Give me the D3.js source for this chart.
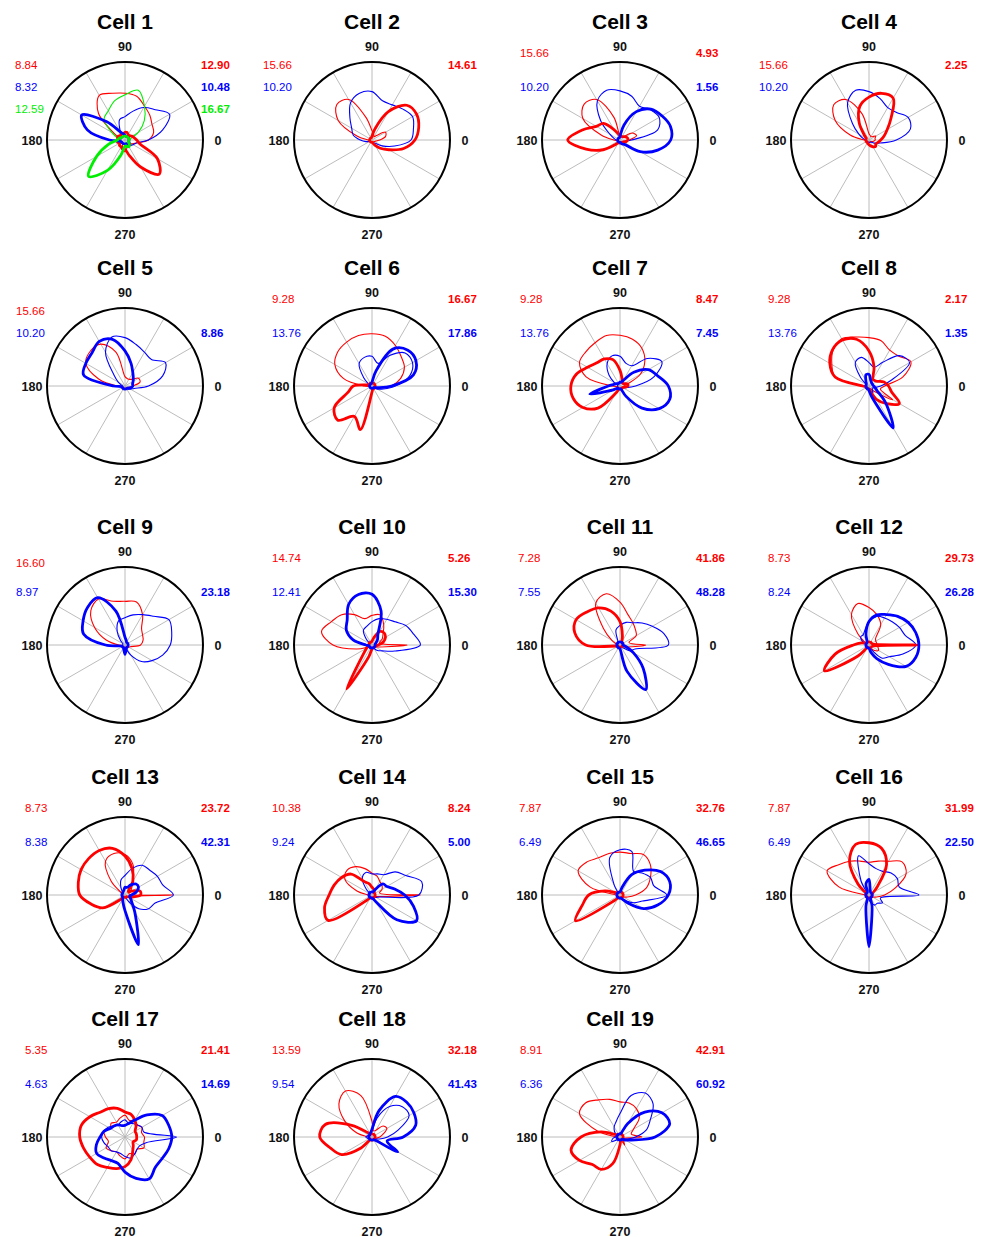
<!DOCTYPE html>
<html>
<head>
<meta charset="utf-8">
<script src="https://cdn.jsdelivr.net/npm/d3@7"></script>
<style>
  body { margin: 0; background: #fff; }
  svg { display: block; font-family: Arial, "Liberation Sans", sans-serif; }
</style>
</head>
<body>
<div id="chart"></div>
<script>
// ---- data ----
const cellNames = d3.range(1, 20).map(i => "Cell " + i);
const angles = d3.range(0, 360, 15);          // degrees, 0 = right, counter-clockwise
const spokeAngles = d3.range(0, 360, 30);
const axisTicks = [0, 90, 180, 270];

// peak values printed beside each plot (null = series absent)
const thinRedMax   = [8.84, 15.66, 15.66, 15.66, 15.66, 9.28, 9.28, 9.28, 16.60, 14.74, 7.28, 8.73, 8.73, 10.38, 7.87, 7.87, 5.35, 13.59, 8.91];
const thinBlueMax  = [8.32, 10.20, 10.20, 10.20, 10.20, 13.76, 13.76, 13.76, 8.97, 12.41, 7.55, 8.24, 8.38, 9.24, 6.49, 6.49, 4.63, 9.54, 6.36];
const thinGreenMax = [12.59, null, null, null, null, null, null, null, null, null, null, null, null, null, null, null, null, null, null];
const thickRedMax  = [12.90, 14.61, 4.93, 2.25, null, 16.67, 8.47, 2.17, null, 5.26, 41.86, 29.73, 23.72, 8.24, 32.76, 31.99, 21.41, 32.18, 42.91];
const thickBlueMax = [10.48, null, 1.56, null, 8.86, 17.86, 7.45, 1.35, 23.18, 15.30, 48.28, 26.28, 42.31, 5.00, 46.65, 22.50, 14.69, 41.43, 60.92];
const thickGreenMax = [16.67, null, null, null, null, null, null, null, null, null, null, null, null, null, null, null, null, null, null];

// tuning curves: radius as fraction of the outer ring, one value per entry of `angles`
const thinRed = [
  [0.30,0.38,0.40,0.45,0.50,0.58,0.60,0.62,0.66,0.48,0.15,0.08,0.06,0.05,0.05,0.05,0.06,0.12,0.15,0.10,0.06,0.08,0.10,0.15],
  [0.10,0.18,0.20,0.08,0.05,0.08,0.12,0.30,0.60,0.64,0.50,0.20,0.05,0.03,0.03,0.03,0.03,0.03,0.03,0.03,0.03,0.03,0.04,0.05],
  [0.12,0.22,0.18,0.06,0.05,0.05,0.05,0.30,0.60,0.65,0.55,0.25,0.08,0.04,0.03,0.03,0.03,0.03,0.03,0.03,0.03,0.03,0.04,0.06],
  [0.08,0.08,0.10,0.06,0.05,0.06,0.08,0.35,0.60,0.64,0.50,0.25,0.06,0.03,0.03,0.03,0.03,0.03,0.03,0.03,0.03,0.03,0.04,0.06],
  [0.10,0.20,0.20,0.12,0.10,0.10,0.12,0.45,0.62,0.63,0.58,0.35,0.10,0.03,0.03,0.03,0.03,0.03,0.03,0.03,0.03,0.03,0.04,0.06],
  [0.25,0.38,0.48,0.53,0.60,0.66,0.67,0.67,0.65,0.62,0.55,0.38,0.10,0.03,0.03,0.03,0.03,0.03,0.03,0.03,0.03,0.04,0.06,0.10],
  [0.05,0.10,0.30,0.45,0.56,0.62,0.65,0.67,0.64,0.62,0.60,0.45,0.10,0.03,0.03,0.03,0.03,0.03,0.03,0.03,0.03,0.03,0.03,0.04],
  [0.20,0.45,0.62,0.54,0.53,0.60,0.62,0.65,0.70,0.65,0.55,0.45,0.05,0.03,0.03,0.03,0.03,0.03,0.03,0.03,0.04,0.10,0.35,0.15],
  [0.20,0.24,0.26,0.30,0.45,0.57,0.56,0.58,0.68,0.62,0.45,0.25,0.08,0.03,0.03,0.03,0.03,0.03,0.03,0.03,0.03,0.03,0.05,0.08],
  [0.45,0.10,0.15,0.20,0.30,0.40,0.38,0.35,0.45,0.55,0.60,0.67,0.50,0.20,0.05,0.03,0.03,0.03,0.03,0.03,0.03,0.03,0.05,0.10],
  [0.33,0.12,0.24,0.28,0.33,0.40,0.55,0.68,0.62,0.30,0.12,0.05,0.03,0.03,0.03,0.03,0.03,0.03,0.03,0.03,0.03,0.03,0.05,0.10],
  [0.10,0.10,0.10,0.12,0.30,0.40,0.48,0.55,0.45,0.20,0.05,0.03,0.03,0.03,0.03,0.03,0.03,0.03,0.03,0.03,0.05,0.10,0.14,0.12],
  [0.62,0.05,0.08,0.12,0.20,0.40,0.52,0.55,0.50,0.25,0.05,0.03,0.03,0.03,0.03,0.03,0.03,0.03,0.03,0.03,0.03,0.03,0.04,0.06],
  [0.62,0.10,0.15,0.18,0.20,0.25,0.28,0.35,0.42,0.45,0.40,0.20,0.05,0.03,0.03,0.03,0.03,0.03,0.03,0.03,0.03,0.03,0.04,0.08],
  [0.20,0.35,0.45,0.55,0.60,0.55,0.55,0.55,0.55,0.60,0.62,0.40,0.05,0.03,0.03,0.03,0.03,0.03,0.03,0.03,0.03,0.03,0.05,0.10],
  [0.20,0.35,0.55,0.60,0.50,0.45,0.42,0.45,0.50,0.55,0.62,0.40,0.05,0.03,0.03,0.03,0.03,0.03,0.03,0.03,0.03,0.03,0.05,0.10],
  [0.25,0.22,0.25,0.22,0.25,0.22,0.28,0.25,0.22,0.25,0.22,0.28,0.25,0.22,0.28,0.25,0.22,0.25,0.28,0.22,0.25,0.22,0.28,0.25],
  [0.10,0.15,0.22,0.20,0.10,0.08,0.20,0.55,0.68,0.60,0.40,0.20,0.05,0.03,0.03,0.03,0.03,0.03,0.03,0.03,0.03,0.03,0.04,0.06],
  [0.28,0.15,0.20,0.35,0.42,0.45,0.45,0.50,0.55,0.62,0.60,0.30,0.05,0.03,0.03,0.03,0.03,0.03,0.03,0.03,0.12,0.06,0.04,0.06]
];

const thinBlue = [
  [0.30,0.50,0.66,0.55,0.48,0.38,0.30,0.27,0.12,0.06,0.05,0.05,0.06,0.06,0.06,0.06,0.06,0.06,0.06,0.06,0.08,0.10,0.12,0.15],
  [0.50,0.55,0.60,0.56,0.52,0.52,0.62,0.62,0.55,0.40,0.30,0.25,0.15,0.08,0.04,0.03,0.03,0.03,0.03,0.03,0.04,0.06,0.15,0.30],
  [0.15,0.50,0.58,0.55,0.50,0.58,0.63,0.66,0.58,0.35,0.15,0.08,0.05,0.03,0.03,0.03,0.03,0.03,0.03,0.03,0.03,0.03,0.04,0.06],
  [0.35,0.55,0.58,0.50,0.48,0.55,0.62,0.66,0.55,0.30,0.15,0.08,0.04,0.03,0.03,0.03,0.03,0.03,0.03,0.03,0.03,0.04,0.08,0.15],
  [0.30,0.50,0.60,0.48,0.50,0.55,0.62,0.65,0.50,0.20,0.10,0.05,0.03,0.03,0.03,0.03,0.03,0.03,0.03,0.03,0.04,0.06,0.08,0.12],
  [0.30,0.50,0.60,0.60,0.45,0.30,0.38,0.38,0.33,0.15,0.05,0.03,0.03,0.03,0.03,0.03,0.03,0.03,0.03,0.03,0.03,0.04,0.08,0.15],
  [0.20,0.45,0.62,0.50,0.30,0.30,0.38,0.40,0.33,0.20,0.08,0.03,0.03,0.03,0.03,0.03,0.03,0.03,0.03,0.03,0.03,0.03,0.04,0.08],
  [0.15,0.30,0.60,0.55,0.35,0.25,0.30,0.38,0.35,0.15,0.04,0.03,0.03,0.03,0.03,0.03,0.03,0.03,0.03,0.05,0.10,0.06,0.05,0.08],
  [0.58,0.62,0.65,0.52,0.45,0.40,0.35,0.32,0.20,0.08,0.03,0.03,0.03,0.03,0.03,0.03,0.03,0.03,0.03,0.05,0.15,0.30,0.40,0.50],
  [0.62,0.55,0.50,0.42,0.38,0.35,0.30,0.25,0.22,0.10,0.03,0.03,0.03,0.03,0.03,0.03,0.03,0.03,0.03,0.03,0.05,0.10,0.15,0.30],
  [0.62,0.58,0.48,0.40,0.33,0.30,0.25,0.20,0.05,0.03,0.03,0.03,0.03,0.03,0.03,0.03,0.03,0.03,0.03,0.03,0.03,0.05,0.15,0.20],
  [0.60,0.48,0.45,0.42,0.40,0.38,0.30,0.20,0.15,0.15,0.10,0.04,0.03,0.03,0.03,0.03,0.03,0.03,0.03,0.04,0.08,0.24,0.30,0.45],
  [0.62,0.50,0.48,0.45,0.44,0.35,0.25,0.20,0.10,0.04,0.03,0.03,0.03,0.03,0.03,0.03,0.03,0.03,0.03,0.04,0.10,0.25,0.35,0.40],
  [0.60,0.66,0.50,0.42,0.30,0.28,0.27,0.30,0.25,0.10,0.03,0.03,0.03,0.03,0.03,0.03,0.03,0.03,0.03,0.03,0.03,0.04,0.06,0.10],
  [0.60,0.45,0.45,0.40,0.35,0.58,0.58,0.50,0.15,0.04,0.04,0.04,0.04,0.04,0.04,0.04,0.04,0.04,0.04,0.04,0.06,0.10,0.20,0.30],
  [0.64,0.40,0.42,0.40,0.35,0.35,0.40,0.52,0.20,0.04,0.04,0.04,0.04,0.04,0.04,0.04,0.04,0.04,0.06,0.10,0.15,0.15,0.20,0.15],
  [0.66,0.25,0.25,0.22,0.20,0.18,0.22,0.20,0.18,0.20,0.25,0.28,0.30,0.28,0.25,0.25,0.22,0.22,0.25,0.28,0.25,0.22,0.22,0.28],
  [0.20,0.35,0.55,0.55,0.45,0.25,0.08,0.06,0.05,0.04,0.04,0.06,0.08,0.06,0.04,0.04,0.04,0.04,0.04,0.04,0.04,0.04,0.05,0.10],
  [0.20,0.35,0.45,0.60,0.65,0.55,0.30,0.20,0.15,0.10,0.05,0.04,0.06,0.10,0.12,0.05,0.03,0.03,0.03,0.03,0.03,0.03,0.05,0.10]
];

const thinGreen = [
  [0.06,0.08,0.20,0.35,0.50,0.66,0.58,0.52,0.43,0.38,0.20,0.10,0.06,0.05,0.05,0.05,0.05,0.05,0.08,0.10,0.08,0.06,0.05,0.05],
  null, null, null, null, null, null, null, null, null, null, null, null, null, null, null, null, null, null
];

const thickRed = [
  [0.15,0.12,0.10,0.08,0.08,0.10,0.10,0.08,0.10,0.08,0.10,0.10,0.08,0.10,0.08,0.10,0.10,0.12,0.12,0.20,0.40,0.62,0.48,0.20],
  [0.55,0.62,0.66,0.63,0.42,0.15,0.05,0.03,0.03,0.03,0.03,0.03,0.03,0.03,0.03,0.03,0.03,0.03,0.03,0.04,0.08,0.15,0.25,0.42],
  [0.10,0.10,0.08,0.06,0.05,0.05,0.06,0.08,0.15,0.30,0.35,0.50,0.67,0.45,0.25,0.08,0.04,0.04,0.04,0.04,0.04,0.04,0.05,0.08],
  [0.15,0.20,0.27,0.40,0.62,0.62,0.55,0.45,0.25,0.08,0.04,0.04,0.04,0.04,0.04,0.04,0.04,0.05,0.06,0.08,0.10,0.12,0.10,0.12],
  null,
  [0.04,0.04,0.04,0.04,0.04,0.04,0.04,0.04,0.04,0.04,0.04,0.06,0.24,0.32,0.56,0.62,0.45,0.58,0.08,0.04,0.04,0.04,0.04,0.04],
  [0.10,0.10,0.06,0.05,0.06,0.10,0.20,0.35,0.40,0.42,0.48,0.58,0.63,0.62,0.55,0.40,0.10,0.04,0.04,0.04,0.04,0.04,0.04,0.06],
  [0.25,0.20,0.12,0.10,0.10,0.25,0.45,0.62,0.68,0.66,0.58,0.45,0.08,0.04,0.04,0.04,0.04,0.04,0.04,0.08,0.20,0.32,0.45,0.30],
  null,
  [0.08,0.15,0.20,0.22,0.20,0.10,0.05,0.04,0.04,0.04,0.04,0.04,0.04,0.05,0.08,0.15,0.65,0.15,0.05,0.04,0.04,0.04,0.04,0.05],
  [0.04,0.04,0.04,0.04,0.05,0.12,0.30,0.45,0.55,0.60,0.65,0.60,0.44,0.05,0.03,0.03,0.03,0.03,0.03,0.03,0.03,0.03,0.03,0.04],
  [0.62,0.05,0.04,0.04,0.04,0.04,0.04,0.04,0.04,0.04,0.05,0.10,0.20,0.45,0.66,0.20,0.04,0.04,0.04,0.04,0.04,0.04,0.04,0.05],
  [0.20,0.20,0.10,0.06,0.20,0.35,0.50,0.62,0.66,0.66,0.65,0.62,0.58,0.45,0.33,0.08,0.03,0.03,0.03,0.03,0.03,0.03,0.05,0.10],
  [0.04,0.04,0.04,0.04,0.06,0.08,0.10,0.15,0.20,0.38,0.45,0.50,0.55,0.63,0.65,0.10,0.04,0.04,0.04,0.04,0.04,0.04,0.04,0.04],
  [0.04,0.04,0.04,0.04,0.04,0.04,0.04,0.04,0.04,0.04,0.06,0.20,0.40,0.50,0.66,0.10,0.04,0.04,0.04,0.04,0.04,0.04,0.04,0.04],
  [0.04,0.04,0.06,0.15,0.45,0.62,0.67,0.67,0.50,0.20,0.05,0.04,0.04,0.04,0.04,0.04,0.04,0.04,0.04,0.04,0.04,0.04,0.04,0.04],
  [0.15,0.15,0.15,0.20,0.25,0.30,0.32,0.38,0.42,0.45,0.52,0.58,0.58,0.55,0.52,0.50,0.45,0.42,0.38,0.30,0.20,0.15,0.12,0.15],
  [0.04,0.04,0.04,0.04,0.04,0.04,0.04,0.04,0.04,0.08,0.30,0.62,0.67,0.55,0.45,0.20,0.04,0.04,0.04,0.04,0.04,0.04,0.04,0.04],
  [0.04,0.04,0.04,0.04,0.04,0.04,0.04,0.04,0.04,0.04,0.06,0.25,0.50,0.65,0.60,0.50,0.48,0.35,0.10,0.04,0.04,0.04,0.04,0.04]
];

const thickBlue = [
  [0.05,0.05,0.05,0.05,0.05,0.05,0.06,0.08,0.12,0.33,0.64,0.50,0.20,0.06,0.05,0.05,0.05,0.05,0.05,0.05,0.06,0.08,0.06,0.05],
  null,
  [0.65,0.67,0.62,0.56,0.42,0.20,0.05,0.03,0.03,0.03,0.03,0.03,0.03,0.03,0.03,0.03,0.03,0.03,0.03,0.04,0.06,0.08,0.30,0.50],
  null,
  [0.10,0.10,0.12,0.15,0.20,0.30,0.45,0.62,0.66,0.60,0.58,0.55,0.15,0.04,0.04,0.04,0.04,0.04,0.04,0.04,0.04,0.04,0.05,0.08],
  [0.25,0.55,0.65,0.65,0.55,0.20,0.05,0.03,0.03,0.03,0.03,0.03,0.03,0.03,0.03,0.03,0.03,0.03,0.03,0.03,0.03,0.03,0.04,0.08],
  [0.62,0.50,0.42,0.25,0.08,0.05,0.05,0.04,0.04,0.04,0.06,0.08,0.15,0.40,0.10,0.04,0.04,0.04,0.04,0.04,0.15,0.40,0.58,0.66],
  [0.06,0.05,0.05,0.05,0.06,0.08,0.15,0.15,0.08,0.05,0.04,0.04,0.04,0.04,0.04,0.04,0.04,0.04,0.06,0.15,0.62,0.30,0.12,0.08],
  [0.04,0.04,0.04,0.04,0.04,0.06,0.10,0.45,0.70,0.68,0.62,0.55,0.25,0.05,0.04,0.04,0.04,0.06,0.12,0.06,0.04,0.04,0.04,0.04],
  [0.04,0.04,0.06,0.10,0.15,0.45,0.65,0.67,0.60,0.45,0.38,0.25,0.08,0.04,0.04,0.04,0.04,0.04,0.04,0.04,0.04,0.04,0.04,0.04],
  [0.04,0.04,0.04,0.04,0.04,0.04,0.04,0.04,0.04,0.04,0.04,0.04,0.04,0.04,0.04,0.04,0.04,0.04,0.05,0.35,0.66,0.42,0.20,0.08],
  [0.64,0.62,0.58,0.52,0.45,0.40,0.30,0.15,0.05,0.04,0.04,0.04,0.04,0.04,0.04,0.04,0.04,0.04,0.04,0.10,0.20,0.35,0.55,0.62],
  [0.08,0.15,0.20,0.20,0.15,0.10,0.10,0.06,0.05,0.04,0.04,0.04,0.04,0.04,0.04,0.04,0.06,0.10,0.20,0.66,0.25,0.12,0.08,0.06],
  [0.42,0.30,0.22,0.20,0.08,0.04,0.04,0.04,0.04,0.04,0.04,0.04,0.04,0.04,0.04,0.04,0.04,0.04,0.04,0.05,0.10,0.45,0.66,0.55],
  [0.62,0.66,0.60,0.45,0.30,0.10,0.04,0.04,0.04,0.04,0.04,0.04,0.04,0.04,0.04,0.04,0.04,0.04,0.04,0.04,0.06,0.15,0.35,0.50],
  [0.04,0.04,0.04,0.04,0.04,0.06,0.20,0.15,0.04,0.04,0.04,0.04,0.04,0.04,0.04,0.04,0.04,0.15,0.66,0.15,0.04,0.04,0.04,0.04],
  [0.60,0.58,0.55,0.40,0.25,0.18,0.15,0.15,0.18,0.20,0.22,0.28,0.32,0.38,0.42,0.38,0.35,0.35,0.45,0.55,0.62,0.55,0.55,0.58],
  [0.40,0.58,0.62,0.63,0.60,0.35,0.10,0.06,0.05,0.04,0.04,0.04,0.04,0.04,0.04,0.04,0.04,0.04,0.04,0.04,0.04,0.06,0.38,0.20],
  [0.45,0.66,0.62,0.45,0.20,0.05,0.04,0.04,0.04,0.04,0.04,0.04,0.04,0.04,0.04,0.04,0.04,0.04,0.04,0.04,0.04,0.04,0.08,0.15]
];

const thickGreen = [
  [0.05,0.05,0.05,0.05,0.05,0.05,0.05,0.05,0.05,0.05,0.06,0.08,0.10,0.22,0.42,0.66,0.45,0.20,0.08,0.08,0.10,0.08,0.05,0.05],
  null, null, null, null, null, null, null, null, null, null, null, null, null, null, null, null, null, null
];

// ---- layout ----
const width = 986, height = 1237;
const R = 78;
const colX = [125, 372, 620, 869];
const rowY = [140, 386, 645, 895, 1137];
// first label line offset and left-label x offset (two label styles in the figure)
const labelTop  = [-75, -75, -87, -75, -75, -87, -87, -87, -82, -87, -87, -87, -87, -87, -87, -87, -87, -87, -87];
const labelLeft = [-110, -109, -100, -110, -109, -100, -100, -101, -109, -100, -102, -101, -100, -100, -101, -101, -100, -100, -100];
const lineY = [null, -53, -31];

const series = [
  { data: thinRed,    max: thinRedMax,    color: "#ff0000", w: 1.1, row: 0, side: "left" },
  { data: thinBlue,   max: thinBlueMax,   color: "#0000ff", w: 1.1, row: 1, side: "left" },
  { data: thinGreen,  max: thinGreenMax,  color: "#00ee00", w: 1.1, row: 2, side: "left" },
  { data: thickRed,   max: thickRedMax,   color: "#ff0000", w: 2.8, row: 0, side: "right" },
  { data: thickBlue,  max: thickBlueMax,  color: "#0000ff", w: 2.8, row: 1, side: "right" },
  { data: thickGreen, max: thickGreenMax, color: "#00ee00", w: 2.8, row: 2, side: "right" }
];

const svg = d3.select("#chart").append("svg")
    .attr("width", width)
    .attr("height", height);

const r = d3.scaleLinear().domain([0, 1]).range([0, R]);
const toRad = deg => (90 - deg) * Math.PI / 180;   // d3 radial angle: clockwise from 12 o'clock

const curve = d3.lineRadial()
    .angle(d => toRad(d.a))
    .radius(d => r(d.v))
    .curve(d3.curveCatmullRomClosed.alpha(0.5));

cellNames.forEach((name, i) => {
    const cx = colX[i % 4], cy = rowY[Math.floor(i / 4)];
    const g = svg.append("g").attr("transform", "translate(" + cx + "," + cy + ")");

    // spokes
    g.selectAll(".spoke")
        .data(spokeAngles)
        .enter().append("line")
        .attr("class", "spoke")
        .attr("x1", 0).attr("y1", 0)
        .attr("x2", d => r(1) * Math.cos(d * Math.PI / 180))
        .attr("y2", d => -r(1) * Math.sin(d * Math.PI / 180))
        .attr("stroke", "#b4b4b4")
        .attr("stroke-width", 0.9);

    // curves
    series.forEach(s => {
        const vals = s.data[i];
        if (!vals) return;
        g.append("path")
            .attr("d", curve(angles.map((a, k) => ({ a: a, v: vals[k] }))))
            .attr("fill", "none")
            .attr("stroke", s.color)
            .attr("stroke-width", s.w)
            .attr("stroke-linejoin", "round");
    });

    // outer ring
    g.append("circle")
        .attr("r", r(1))
        .attr("fill", "none")
        .attr("stroke", "#000")
        .attr("stroke-width", 2);

    // angle labels
    g.selectAll(".tick")
        .data(axisTicks)
        .enter().append("text")
        .attr("class", "tick")
        .attr("x", d => 93 * Math.cos(d * Math.PI / 180))
        .attr("y", d => -94 * Math.sin(d * Math.PI / 180) + 4.5)
        .attr("text-anchor", "middle")
        .attr("font-size", 12.5)
        .attr("font-weight", "bold")
        .attr("fill", "#111")
        .text(d => d);

    // title
    g.append("text")
        .attr("x", 0)
        .attr("y", -111)
        .attr("text-anchor", "middle")
        .attr("font-size", 21)
        .attr("font-weight", "bold")
        .text(name);

    // peak values
    series.forEach(s => {
        const m = s.max[i];
        if (m == null) return;
        const y = (s.row === 0 ? labelTop[i] : lineY[s.row]) + 4;
        g.append("text")
            .attr("x", s.side === "left" ? labelLeft[i] : 76)
            .attr("y", y)
            .attr("font-size", 11.5)
            .attr("font-weight", s.side === "left" ? "normal" : "bold")
            .attr("fill", s.color)
            .text(m.toFixed(2));
    });
});
</script>
</body>
</html>
